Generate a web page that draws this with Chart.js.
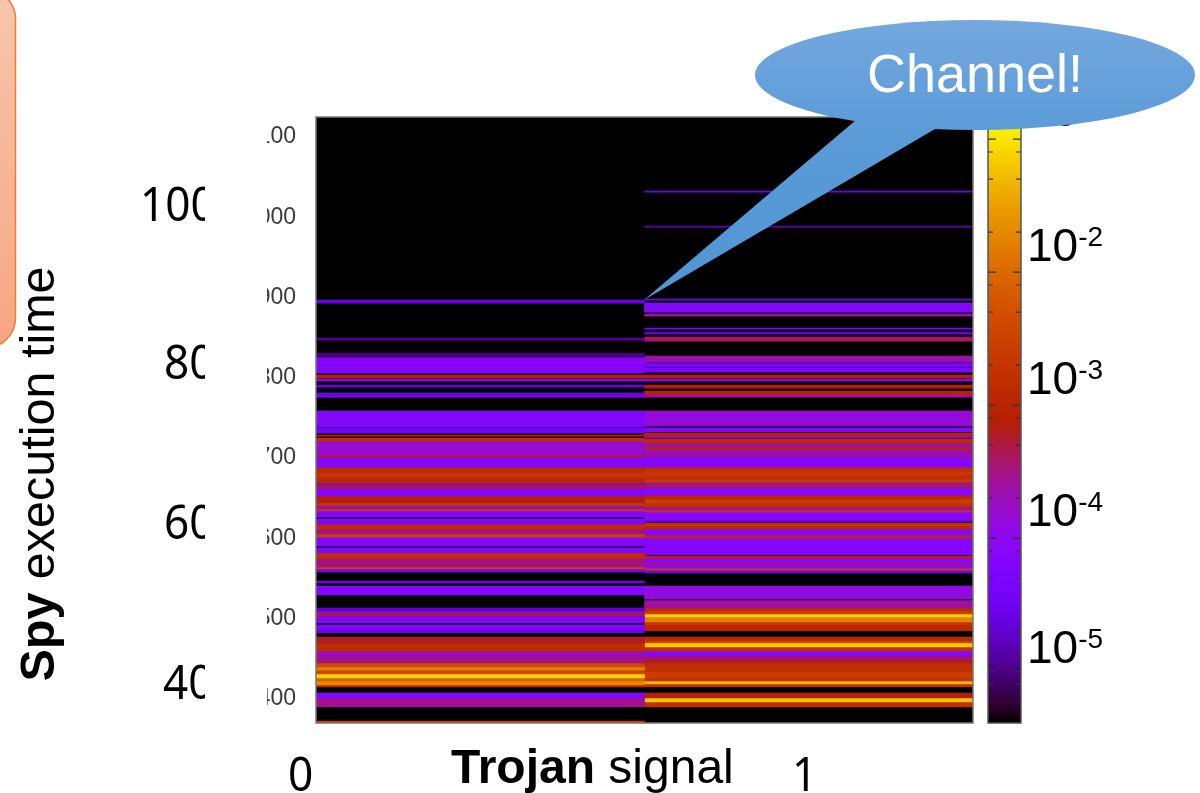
<!DOCTYPE html>
<html>
<head>
<meta charset="utf-8">
<title>Spy execution time</title>
<script src="https://cdn.jsdelivr.net/npm/chart.js@4"></script>
<style>
  html, body { margin: 0; padding: 0; background: #fff; overflow: hidden; }
  #page { position: relative; width: 1200px; height: 793px; overflow: hidden; }
  canvas { position: absolute; top: 0; }
  #heatmap { left: 0; }
  #colorbar { left: 980px; }
  .txt { position: absolute; white-space: nowrap; color: #000; font-family: "Liberation Sans", sans-serif; }
  .big { font-family: "Noto Sans", sans-serif; font-size: 48px; line-height: 60px; transform: scaleX(0.92); transform-origin: left center; }
  .cb { font-size: 46px; line-height: 60px; }
  .cb sup { font-size: 28px; line-height: 0; vertical-align: 15px; }
  #mask { position: absolute; left: 205px; top: 110px; width: 62px; height: 615px; background: #fff; }
  #shapes { position: absolute; left: 0; top: 0; }
</style>
</head>
<body>
<div id="page">
  <canvas id="heatmap" width="1200" height="793"></canvas>
  <canvas id="colorbar" width="50" height="793"></canvas>
  <div id="labels"></div>
  <div id="mask"></div>
  <svg id="shapes" width="1200" height="793">
    <defs>
      <linearGradient id="boxFill" x1="0" y1="0" x2="0" y2="1">
        <stop offset="0" stop-color="#f8c6ac"/>
        <stop offset="1" stop-color="#f7a680"/>
      </linearGradient>
      <linearGradient id="calloutFill" gradientUnits="userSpaceOnUse" x1="0" y1="20" x2="0" y2="300">
        <stop offset="0" stop-color="#74a8de"/>
        <stop offset="0.4" stop-color="#5b9bd8"/>
        <stop offset="1" stop-color="#4f96d3"/>
      </linearGradient>
    </defs>
    <rect x="-100" y="-11" width="115.5" height="359" rx="30" fill="url(#boxFill)" stroke="#ed7d31" stroke-width="1.5"/>
    <path d="M644 300 L856 120 L935 129 Z" fill="url(#calloutFill)"/>
    <ellipse cx="975" cy="75" rx="220" ry="55" fill="url(#calloutFill)"/>
    <text x="975" y="92" text-anchor="middle" fill="#fff" font-family="Liberation Sans" font-size="54">Channel!</text>
  </svg>
  <div class="txt" style="left:-213px;top:444px;width:500px;height:60px;line-height:60px;font-size:48.5px;text-align:center;transform:rotate(-90deg);"><b>Spy</b> execution time</div>
  <div class="txt" style="left:451px;top:737px;line-height:60px;font-size:48px;"><b>Trojan</b> signal</div>
</div>

<script>
// Señal del troyano (columnas) y tiempo de ejecucion del espia (filas)
const trojanSignals = ['0', '1'];
const spyTicks = [400, 500, 600, 700, 800, 900, 1000, 1100];
const slideTimeLabels = ['400', '600', '800', '1000'];
const colorbarTicks = [0.05, 0.04, 0.025, 0.01, 0.005, 0.004, 0.0025, 0.001, 0.0005, 0.0004, 0.00025, 0.0001,
    0.00005, 0.00004, 0.000025, 0.00001, 0.000005, 0.000004];
const colorbarLabels = [-1, -2, -3, -4, -5];

// [tiempo desde, tiempo hasta, log10(probabilidad)]
const trojan0Bands = [
    [890.5, 894.3, -4.9], [844.5, 847, -5.2], [823, 828, -5.3], [817, 823, -4.5], [814.5, 817, -4.25],
    [803.4, 814.5, -4.5], [797.2, 800.9, -3.45], [793.5, 796, -4.3], [786, 788.5, -4.9], [775.5, 778.5, -4.8],
    [773.5, 775.5, -4.4], [747.4, 756.1, -4.5], [744.9, 747.4, -4.3], [736.2, 744.9, -4.5], [728.7, 734.9, -4.75],
    [725, 726.2, -3.3], [718.8, 722.5, -3.1], [701.3, 718.8, -4.1], [698.8, 701.3, -3.5], [686.4, 698.8, -4.45],
    [680, 686.4, -3.2], [673.9, 680, -3.0], [666.5, 673.9, -3.25], [664, 666.5, -4.7], [660.2, 664, -3.5],
    [650.3, 660.2, -4.45], [641.6, 650.3, -3.45], [639, 641.6, -2.9], [634.1, 639, -3.9], [631.6, 634.1, -2.9],
    [624.1, 631.6, -4.5], [615.4, 621.6, -4.5], [609.2, 615.4, -3.15], [603, 609.2, -3.8], [599.2, 603, -2.8],
    [588, 599.2, -4.45], [579.3, 585.5, -4.5], [573, 579.3, -3.1], [561.9, 573, -3.8], [559.4, 561.9, -2.8],
    [555.7, 559.4, -4.6], [542, 544.5, -4.8], [527, 538.2, -4.45], [507.1, 510.8, -5.0], [504.6, 507.1, -4.4],
    [500.9, 504.6, -3.5], [492.2, 500.9, -4.5], [484.7, 489.7, -4.5], [479.7, 484.7, -4.85], [467.3, 474.7, -3.5],
    [457.3, 467.3, -3.15], [449.8, 457.3, -4.0], [442.4, 449.8, -3.8], [437.4, 442.4, -2.7], [433.6, 437.4, -2.05],
    [428.7, 433.6, -2.7], [423.7, 428.7, -1.4], [420, 423.7, -2.4], [415, 420, -2.0], [412.5, 415, -3.2],
    [398.8, 405, -4.5], [387.6, 398.8, -3.85], [367.6, 370.1, -2.95]
];
const trojan1Bands = [
    [1028.7, 1030, -4.8], [985.2, 986.4, -5.1], [894.3, 895.5, -4.85], [879.4, 890.6, -4.5], [874.4, 876.9, -3.9],
    [858.2, 859.4, -4.6], [851.9, 854.5, -5.0], [843.3, 848.2, -3.7], [817, 824.6, -3.95], [810.9, 815.9, -4.7],
    [804.7, 809.6, -4.55], [797.2, 800.9, -3.45], [793.5, 796, -4.3], [784.7, 788.5, -3.45], [777.3, 781, -3.35],
    [773.5, 777.3, -3.9], [737.4, 756.1, -4.15], [730, 734.9, -4.5], [725, 728.7, -3.35], [722.5, 725, -4.3],
    [716.3, 721.2, -3.15], [711.3, 716.3, -3.9], [708.8, 711.3, -3.25], [698.8, 708.8, -3.95], [686.4, 698.8, -4.45],
    [681.4, 686.4, -3.1], [676.4, 681.4, -2.95], [671.4, 676.4, -3.15], [667.7, 671.4, -2.9], [664, 667.7, -3.95],
    [661.5, 664, -3.3], [651.5, 661.5, -4.4], [646.6, 651.5, -3.25], [641.6, 646.6, -2.85], [636.6, 641.6, -3.1],
    [632.8, 636.6, -3.9], [630.4, 632.8, -2.9], [620.4, 630.4, -4.4], [617.9, 620.4, -4.9], [612.9, 616.7, -3.0],
    [609.2, 612.9, -3.3], [601.7, 609.2, -4.45], [598, 601.7, -3.2], [576.8, 598, -4.45], [573, 575.6, -3.3],
    [568, 573, -4.4], [564.4, 568, -3.9], [560.6, 564.4, -4.4], [558.1, 560.6, -2.8], [554.4, 558.1, -4.8],
    [522, 538.2, -4.2], [510.8, 520.2, -3.9], [507.1, 510.8, -3.2], [503.4, 507.1, -2.85], [499.6, 503.4, -1.45],
    [493.4, 499.6, -2.05], [489.7, 493.4, -3.0], [482.2, 489.7, -3.25], [469.8, 474.7, -3.2], [467.3, 469.8, -2.7],
    [462.3, 467.3, -1.45], [457.3, 462.3, -3.1], [449.8, 457.3, -4.4], [442.4, 449.8, -3.55], [431.2, 442.4, -3.1],
    [423.7, 431.2, -2.85], [420, 423.7, -3.1], [416.2, 420, -1.6], [412.5, 416.2, -3.1], [398.8, 405, -3.45],
    [393.8, 398.8, -1.5], [387.6, 393.8, -3.1]
];

const LOG_MIN = -5.69;
const LOG_MAX = -1.135;

// Paleta por defecto de gnuplot (rgbformulae 7,5,15)
function paletteColor(frac) {
    const r = Math.round(255 * Math.sqrt(frac));
    const g = Math.round(255 * frac * frac * frac);
    const b = Math.round(255 * Math.max(0, Math.sin(2 * Math.PI * frac)));
    return `rgb(${r},${g},${b})`;
}

function bandColor(logP) {
    return paletteColor((logP - LOG_MIN) / (LOG_MAX - LOG_MIN));
}

function bandDataset(band, column) {
    const data = [null, null];
    data[column] = [band[0], band[1]];
    return {
        data: data,
        backgroundColor: bandColor(band[2]),
        borderWidth: 0,
        grouped: false,
        barPercentage: 1,
        categoryPercentage: 1
    };
}

const plotFrame = {
    id: 'plotFrame',
    beforeDatasetsDraw(chart) {
        const a = chart.chartArea;
        chart.ctx.save();
        chart.ctx.fillStyle = '#000';
        chart.ctx.fillRect(a.left, a.top, a.width, a.height);
        chart.ctx.restore();
    },
    afterDatasetsDraw(chart) {
        const a = chart.chartArea;
        chart.ctx.save();
        chart.ctx.strokeStyle = '#777';
        chart.ctx.lineWidth = 1.5;
        chart.ctx.strokeRect(a.left, a.top, a.width, a.height);
        chart.ctx.restore();
    }
};

new Chart(document.getElementById('heatmap'), {
    type: 'bar',
    data: {
        labels: trojanSignals,
        datasets: [
            ...trojan0Bands.map(b => bandDataset(b, 0)),
            ...trojan1Bands.map(b => bandDataset(b, 1))
        ]
    },
    options: {
        responsive: false,
        animation: false,
        layout: { padding: { left: 230, right: 227, top: 117, bottom: 70 } },
        plugins: { legend: { display: false }, tooltip: { enabled: false } },
        scales: {
            x: {
                grid: { display: false, drawTicks: false },
                border: { display: false },
                ticks: { display: false },
                afterFit: s => { s.height = 0; }
            },
            y: {
                min: 367.6,
                max: 1122.4,
                grid: { display: false, drawTicks: false },
                border: { display: false },
                afterBuildTicks: s => { s.ticks = spyTicks.map(v => ({ value: v })); },
                afterFit: s => { s.width = 86; },
                ticks: {
                    padding: 20,
                    labelOffset: 2,
                    color: '#3a3a3a',
                    font: { family: 'Liberation Sans', size: 23 },
                    callback: v => String(v)
                }
            }
        }
    },
    plugins: [plotFrame]
});

// Barra de color
const colorbarFrame = {
    id: 'colorbarFrame',
    afterDatasetsDraw(chart) {
        const a = chart.chartArea;
        const y = chart.scales.y;
        const ctx = chart.ctx;
        ctx.save();
        ctx.strokeStyle = '#333';
        ctx.lineWidth = 1.2;
        colorbarTicks.forEach(v => {
            const p = y.getPixelForValue(v);
            const first = Number(v.toExponential().charAt(0));
            const len = first === 5 ? 8 : 5;
            ctx.beginPath();
            ctx.moveTo(a.left, p);
            ctx.lineTo(a.left + len, p);
            ctx.moveTo(a.right - len, p);
            ctx.lineTo(a.right, p);
            ctx.stroke();
        });
        ctx.strokeStyle = '#555';
        ctx.lineWidth = 1.5;
        ctx.strokeRect(a.left, a.top, a.width, a.height);
        ctx.restore();
    }
};

function colorbarGradient(context) {
    const area = context.chart.chartArea;
    if (!area) return '#000';
    const grad = context.chart.ctx.createLinearGradient(0, area.bottom, 0, area.top);
    for (let i = 0; i <= 50; i++) {
        grad.addColorStop(i / 50, paletteColor(i / 50));
    }
    return grad;
}

new Chart(document.getElementById('colorbar'), {
    type: 'bar',
    data: {
        labels: ['p'],
        datasets: [{
            data: [[Math.pow(10, LOG_MIN), Math.pow(10, LOG_MAX)]],
            backgroundColor: colorbarGradient,
            borderWidth: 0,
            barPercentage: 1,
            categoryPercentage: 1
        }]
    },
    options: {
        responsive: false,
        animation: false,
        layout: { padding: { left: 8, right: 9, top: 117, bottom: 70 } },
        plugins: { legend: { display: false }, tooltip: { enabled: false } },
        scales: {
            x: { display: false },
            y: { type: 'logarithmic', display: false, min: Math.pow(10, LOG_MIN), max: Math.pow(10, LOG_MAX) }
        }
    },
    plugins: [colorbarFrame]
});

// Textos de la diapositiva encima del grafico
const labelsBox = document.getElementById('labels');
function addLabel(cls, html, left, centerY) {
    const el = document.createElement('div');
    el.className = 'txt ' + cls;
    el.innerHTML = html;
    el.style.left = left + 'px';
    el.style.top = (centerY - 30) + 'px';
    labelsBox.appendChild(el);
}

const slideTimeY = [681, 521, 361, 203];
const slideTimeX = [163, 164, 164, 140];
slideTimeLabels.forEach((t, i) => addLabel('big', t, slideTimeX[i], slideTimeY[i]));

addLabel('big', trojanSignals[0], 288, 773);
addLabel('big', trojanSignals[1], 792, 773);

const colorbarLabelY = [110, 245, 378, 510, 647];
colorbarLabels.forEach((e, i) => addLabel('cb', '10<sup>' + e + '</sup>', 1027, colorbarLabelY[i]));
</script>
</body>
</html>
